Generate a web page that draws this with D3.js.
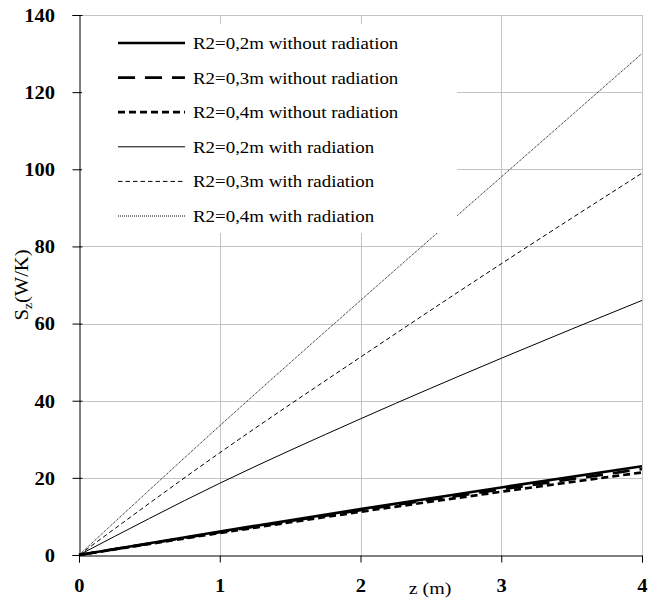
<!DOCTYPE html>
<html>
<head>
<meta charset="utf-8">
<script src="https://cdn.jsdelivr.net/npm/d3@7/dist/d3.min.js"></script>
<style>
  html, body { margin: 0; padding: 0; background: #fff; }
  svg { display: block; }
  svg text { font-family: "Liberation Serif", "Times New Roman", Times, "DejaVu Serif", serif !important; fill: #000; }
</style>
</head>
<body>
<svg id="chart" width="657" height="602"></svg>
<script>
// Axial position along the tube (m)
const zValues = [0, 1, 2, 3, 4];

// Entropy generation S_z (W/K) for each outer radius, with and without radiation
const r02NoRad = [0, 6.1, 11.9, 17.5, 23.0];
const r03NoRad = [0, 5.9, 11.6, 17.0, 22.3];
const r04NoRad = [0, 5.7, 11.2, 16.4, 21.4];
const r02Rad   = [0, 18.6, 35.3, 51.0, 66.0];
const r03Rad   = [0, 26.5, 51.3, 75.5, 99.0];
const r04Rad   = [0, 33.5, 66.0, 98.0, 130.0];

const seriesNames = [
  "R2=0,2m without radiation",
  "R2=0,3m without radiation",
  "R2=0,4m without radiation",
  "R2=0,2m with radiation",
  "R2=0,3m with radiation",
  "R2=0,4m with radiation"
];

const xTicks = [0, 1, 2, 3, 4];
const yTicks = [0, 20, 40, 60, 80, 100, 120, 140];

const seriesValues = [r02NoRad, r03NoRad, r04NoRad, r02Rad, r03Rad, r04Rad];
const seriesStyle = [
  { width: 2.7, dash: null },
  { width: 2.7, dash: "17,10" },
  { width: 2.7, dash: "7,4" },
  { width: 1,   dash: null },
  { width: 1,   dash: "4.5,3" },
  { width: 1,   dash: "1,1" }
];

const serif = "'Liberation Serif', 'Times New Roman', Times, 'DejaVu Serif', serif";
const stretch = 1.14; // horizontal widening of the glyphs

const svg = d3.select("#chart").attr("font-family", serif);
const x = d3.scaleLinear().domain([0, 4]).range([79, 642]);
const y = d3.scaleLinear().domain([0, 140]).range([555, 15]);

// Grid lines
const grid = svg.append("g").attr("stroke", "#c4c4c4").attr("stroke-width", 1);
grid.selectAll("line.h").data(yTicks.filter(d => d > 0)).join("line")
  .attr("x1", x(0)).attr("x2", x(4))
  .attr("y1", d => Math.round(y(d)) + 0.5).attr("y2", d => Math.round(y(d)) + 0.5);
grid.selectAll("line.v").data(xTicks.filter(d => d > 0)).join("line")
  .attr("y1", y(0)).attr("y2", y(140))
  .attr("x1", d => Math.round(x(d)) + 0.5).attr("x2", d => Math.round(x(d)) + 0.5);

// Data lines
const line = d3.line()
  .x((d, i) => x(zValues[i]))
  .y(d => y(d))
  .curve(d3.curveMonotoneX);

svg.append("g").selectAll("path").data(seriesValues).join("path")
  .attr("d", d => line(d))
  .attr("fill", "none")
  .attr("stroke", "#000")
  .attr("stroke-width", (d, i) => seriesStyle[i].width)
  .attr("stroke-dasharray", (d, i) => seriesStyle[i].dash);

// Axes
const yAxis = d3.axisLeft(y).tickValues(yTicks).tickSize(7).tickFormat(d3.format("d"));
const xAxis = d3.axisBottom(x).tickValues(xTicks).tickSize(7).tickFormat(d3.format("d"));

const gy = svg.append("g").attr("transform", `translate(${Math.round(x(0)) + 0.5},0)`).call(yAxis);
const gx = svg.append("g").attr("transform", `translate(0,${Math.round(y(0)) + 0.5})`).call(xAxis);

[gy, gx].forEach(g => {
  g.attr("font-family", serif).attr("font-size", 18).attr("font-weight", "bold");
  g.select(".domain").attr("stroke", "#000");
  g.selectAll(".tick line").attr("stroke", "#000");
  g.selectAll(".tick text").attr("fill", "#000");
});
gy.selectAll(".tick line").attr("x2", -7).attr("x1", 3);
gy.selectAll(".tick text")
  .attr("x", -24.5 / stretch).attr("dy", "0.35em")
  .attr("transform", `scale(${stretch},1)`);
gx.selectAll(".tick text")
  .attr("y", 24).attr("dy", "0.71em")
  .attr("transform", `scale(${stretch},1)`);

// Axis titles
svg.append("text")
  .attr("transform", `translate(430,594) scale(${stretch},1)`)
  .attr("text-anchor", "middle")
  .attr("font-size", 17.5)
  .text("z (m)");

const yt = svg.append("text")
  .attr("transform", `translate(28,285) rotate(-90) scale(${stretch},1)`)
  .attr("text-anchor", "middle")
  .attr("font-size", 18);
yt.append("tspan").text("S");
yt.append("tspan").attr("dy", 4).attr("font-size", 12).text("z");
yt.append("tspan").attr("dy", -4).text("(W/K)");

// Legend
const legend = svg.append("g");
legend.append("rect")
  .attr("x", 82).attr("y", 24).attr("width", 375).attr("height", 209)
  .attr("fill", "#fff");

const rowY = i => 43 + i * 34.6;
const rows = legend.selectAll("g.row").data(seriesNames).join("g");
rows.append("line")
  .attr("x1", 118).attr("x2", 185)
  .attr("y1", (d, i) => rowY(i)).attr("y2", (d, i) => rowY(i))
  .attr("stroke", "#000")
  .attr("stroke-width", (d, i) => seriesStyle[i].width)
  .attr("stroke-dasharray", (d, i) => seriesStyle[i].dash);
rows.append("text")
  .attr("transform", (d, i) => `translate(193,${rowY(i) + 6}) scale(1.08,1)`)
  .attr("font-size", 17.5)
  .text(d => d);
</script>
</body>
</html>
